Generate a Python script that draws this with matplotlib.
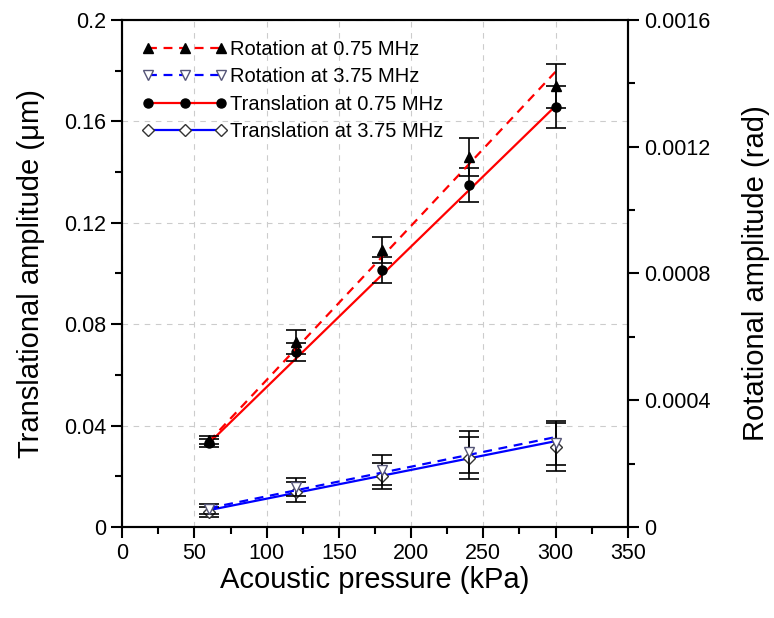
# Translational / rotational amplitude vs acoustic pressure

import numpy as np
import matplotlib.pyplot as plt
from matplotlib.lines import Line2D

plt.rcParams['font.family'] = ['Liberation Sans', 'DejaVu Sans']

pressure = np.array([60, 120, 180, 240, 300])

# translation (left axis, um)
trans_075 = np.array([0.0331, 0.0690, 0.1014, 0.1349, 0.1657])
trans_075_err = np.array([0.0016, 0.0036, 0.0050, 0.0067, 0.0083])
trans_375 = np.array([0.0059, 0.0138, 0.0201, 0.0272, 0.0316])
trans_375_err = np.array([0.0020, 0.0040, 0.0051, 0.0083, 0.0095])

# rotation (right axis, rad)
rot_075 = np.array([0.000275, 0.000584, 0.000874, 0.001168, 0.001392])
rot_075_err = np.array([0.000013, 0.000038, 0.000041, 0.000060, 0.000069])
rot_375 = np.array([0.000057, 0.000126, 0.000180, 0.000237, 0.000265])
rot_375_err = np.array([0.000016, 0.000028, 0.000047, 0.000066, 0.000069])

# linear fit lines, end points
fit_x = [60, 300]
fit_trans_075 = [0.0331, 0.1660]
fit_trans_375 = [0.0067, 0.0339]
fit_rot_075 = [0.000270, 0.001436]
fit_rot_375 = [0.000060, 0.000284]

fig, ax = plt.subplots(figsize=(7.74, 6.18), dpi=100)
fig.subplots_adjust(left=0.158, right=0.811, bottom=0.147, top=0.968)
ax2 = ax.twinx()

# fits
ax.plot(fit_x, fit_trans_075, color='red', lw=1.6, zorder=2)
ax.plot(fit_x, fit_trans_375, color='blue', lw=1.6, zorder=2)
ax2.plot(fit_x, fit_rot_075, color='red', lw=1.6, ls=(0, (4, 3)), zorder=2)
ax2.plot(fit_x, fit_rot_375, color='blue', lw=1.6, ls=(0, (4, 3)), zorder=2)

eb = dict(ls='none', ecolor='black', elinewidth=1.2, capsize=7, capthick=1.2, zorder=3)
ax.errorbar(pressure, trans_075, yerr=trans_075_err, marker='o', ms=6.5,
            mfc='black', mec='black', **eb)
ax.errorbar(pressure, trans_375, yerr=trans_375_err, marker='D', ms=6,
            mfc='white', mec='#333333', **eb)
ax2.errorbar(pressure, rot_075, yerr=rot_075_err, marker='^', ms=6.5,
             mfc='black', mec='black', **eb)
ax2.errorbar(pressure, rot_375, yerr=rot_375_err, marker='v', ms=6.5,
             mfc='white', mec='#555577', **eb)

ax.set_xlim(0, 350)
ax.set_ylim(0, 0.2)
ax2.set_ylim(0, 0.0016)
ax.set_xticks(np.arange(0, 351, 50))
ax.set_xticks(np.arange(25, 350, 50), minor=True)
ax.set_yticks([0, 0.04, 0.08, 0.12, 0.16, 0.2])
ax.set_yticklabels(['0', '0.04', '0.08', '0.12', '0.16', '0.2'])
ax.set_yticks(np.arange(0.02, 0.2, 0.04), minor=True)
ax2.set_yticks([0, 0.0004, 0.0008, 0.0012, 0.0016])
ax2.set_yticklabels(['0', '0.0004', '0.0008', '0.0012', '0.0016'])
ax2.set_yticks(np.arange(0.0002, 0.0016, 0.0004), minor=True)

for a in (ax, ax2):
    a.tick_params(which='major', direction='out', length=8, width=1.5, labelsize=15.5)
    a.tick_params(which='minor', direction='out', length=5, width=1.5)
    for s in a.spines.values():
        s.set_linewidth(1.5)

ax.grid(True, which='major', color='#cccccc', ls=(0, (5, 5)), lw=0.8)
ax.set_axisbelow(True)

ax.set_xlabel('Acoustic pressure (kPa)', fontsize=21, labelpad=1)
ax.set_ylabel('Translational amplitude (\u03bcm)', fontsize=21, labelpad=14)
ax2.set_ylabel('Rotational amplitude (rad)', fontsize=21, labelpad=23)

handles = [
    Line2D([], [], color='red', ls=(0, (4, 3)), lw=1.6, marker='^', ms=6.5,
           mfc='black', mec='black'),
    Line2D([], [], color='blue', ls=(0, (4, 3)), lw=1.6, marker='v', ms=6.5,
           mfc='white', mec='#555577'),
    Line2D([], [], color='red', lw=1.6, marker='o', ms=6.5, mfc='black', mec='black'),
    Line2D([], [], color='blue', lw=1.6, marker='D', ms=6, mfc='white', mec='#333333'),
]
labels = ['Rotation at 0.75 MHz', 'Rotation at 3.75 MHz',
          'Translation at 0.75 MHz', 'Translation at 3.75 MHz']
ax2.legend(handles, labels, loc='upper left', numpoints=3, frameon=False,
           fontsize=14.5, handlelength=4.2, handletextpad=0.15, labelspacing=0.42,
           borderaxespad=0.6)

plt.savefig('out.png', dpi=100)
